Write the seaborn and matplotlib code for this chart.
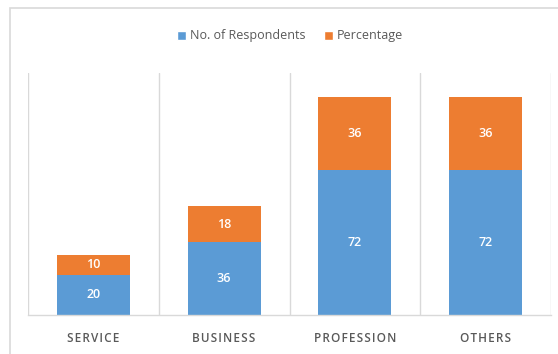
import matplotlib
matplotlib.use("Agg")
import matplotlib.pyplot as plt
from matplotlib.patches import Rectangle, Patch
import numpy as np
import pandas as pd
import seaborn as sns

categories = ["SERVICE", "BUSINESS", "PROFESSION", "OTHERS"]
respondents = [20, 36, 72, 72]
percentage = [10, 18, 36, 36]

BLUE = "#5B9BD5"
ORANGE = "#ED7D31"
GRID = "#D9D9D9"
TEXT = "#595959"

sns.set_theme(style="white")
plt.rcParams["font.family"] = ["Open Sans", "DejaVu Sans"]

df = pd.DataFrame({"category": categories,
                   "respondents": respondents,
                   "percentage": percentage})
df["total"] = df["respondents"] + df["percentage"]

fig = plt.figure(figsize=(5.58, 3.54), dpi=100)
ax = fig.add_axes([28 / 558, 1 - 315 / 354, (551 - 28) / 558, (315 - 73) / 354])

# stacked bars: full height in orange, respondents in blue on top of it
sns.barplot(data=df, x="category", y="total", color=ORANGE, saturation=1,
            width=0.56, linewidth=0, ax=ax)
sns.barplot(data=df, x="category", y="respondents", color=BLUE, saturation=1,
            width=0.56, linewidth=0, ax=ax)

for i, (r, p) in enumerate(zip(respondents, percentage)):
    ax.text(i, r / 2, str(r), ha="center", va="center", color="white",
            fontsize=9, fontweight="semibold")
    ax.text(i, r + p / 2, str(p), ha="center", va="center", color="white",
            fontsize=9, fontweight="semibold")

ax.set_xlim(-0.5, len(categories) - 0.5)
ax.set_ylim(0, 120)
ax.set_yticks([])
ax.set_xlabel("")
ax.set_ylabel("")

# category separators
for xb in np.arange(-0.5, len(categories), 1.0):
    ax.axvline(xb, color=GRID, lw=1, zorder=0)

for side in ["top", "left", "right"]:
    ax.spines[side].set_visible(False)
ax.spines["bottom"].set_color(GRID)
ax.spines["bottom"].set_linewidth(1)

ax.set_xticks(range(len(categories)))
ax.set_xticklabels(["\u200a".join(c) for c in categories], color=TEXT,
                   fontsize=8.5, fontweight="semibold")
ax.tick_params(axis="x", length=0, pad=12)

handles = [Patch(facecolor=BLUE, label="No. of Respondents"),
           Patch(facecolor=ORANGE, label="Percentage")]
fig.legend(handles=handles, loc="center", bbox_to_anchor=(290 / 558, 1 - 36 / 354),
           ncol=2, frameon=False, fontsize=9, labelcolor=TEXT,
           handlelength=0.7, handleheight=0.7, handletextpad=0.3, columnspacing=1.5)

# chart-area border
fig.patches.append(Rectangle((10 / 558, -0.05), 1.0, 1 - 8 / 354 + 0.05,
                             transform=fig.transFigure, fill=False,
                             edgecolor=GRID, lw=1.2))

fig.savefig("out.png", dpi=100, facecolor="white")
